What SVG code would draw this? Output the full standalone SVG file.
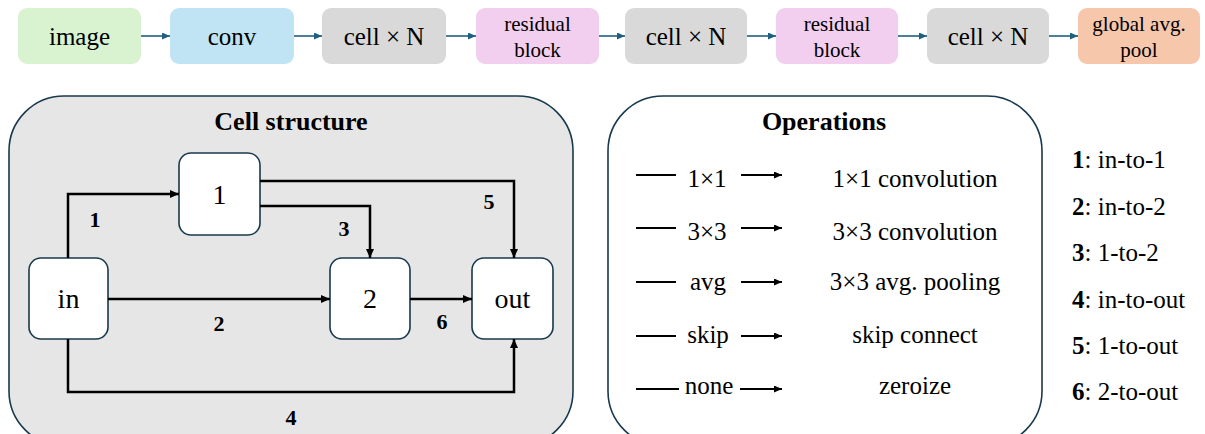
<svg xmlns="http://www.w3.org/2000/svg" width="1205" height="434" viewBox="0 0 1205 434" font-family="'Liberation Serif', Tinos, 'DejaVu Serif', serif">
<defs>
<style>
text{font-family:'Liberation Serif',Tinos,'Times New Roman','DejaVu Serif',serif;fill:#000;text-anchor:middle}
.top{font-size:25px}
.two{font-size:21px}
.ttl{font-size:26px;font-weight:bold}
.nd{font-size:28px}
.el{font-size:22px;font-weight:bold}
.op{font-size:25px}
.lg{font-size:25px;text-anchor:start}
.tb{stroke:none}
.flow{stroke:#1f5f80;stroke-width:1.6;fill:none}
.edge{stroke:#000;stroke-width:2.5;fill:none}
.opl{stroke:#000;stroke-width:2;fill:none}
.node{fill:#fff;stroke:#18394d;stroke-width:1.6}
.panel{stroke:#18394d;stroke-width:1.6}
</style>
<marker id="ah" markerUnits="userSpaceOnUse" markerWidth="9" markerHeight="8" refX="9" refY="4" orient="auto"><path d="M0,0 L9,4 L0,8 z" fill="#000"/></marker>
<marker id="ahf" markerUnits="userSpaceOnUse" markerWidth="8" markerHeight="7" refX="8" refY="3.5" orient="auto"><path d="M0,0 L8,3.5 L0,7 z" fill="#1f5f80"/></marker>
<marker id="aho" markerUnits="userSpaceOnUse" markerWidth="8" markerHeight="7" refX="8" refY="3.5" orient="auto"><path d="M0,0 L8,3.5 L0,7 z" fill="#000"/></marker>
</defs>

<!-- top pipeline -->
<g id="n-image"><rect class="tb" x="18" y="8" width="123" height="56" rx="9" fill="#d9f2d0"/><text class="top" x="79.5" y="45">image</text></g>
<g id="n-conv"><rect class="tb" x="170" y="8" width="124" height="56" rx="9" fill="#c1e4f5"/><text class="top" x="232" y="45">conv</text></g>
<g id="n-cell1"><rect class="tb" x="322" y="8" width="124" height="56" rx="9" fill="#d9d9d9"/><text class="top" x="384" y="45">cell × N</text></g>
<g id="n-res1"><rect class="tb" x="476" y="8" width="123" height="56" rx="9" fill="#f2cfee"/><text class="two" x="537.5" y="31">residual</text><text class="two" x="537.5" y="57">block</text></g>
<g id="n-cell2"><rect class="tb" x="625" y="8" width="122" height="56" rx="9" fill="#d9d9d9"/><text class="top" x="686" y="45">cell × N</text></g>
<g id="n-res2"><rect class="tb" x="776" y="8" width="122" height="56" rx="9" fill="#f2cfee"/><text class="two" x="837" y="31">residual</text><text class="two" x="837" y="57">block</text></g>
<g id="n-cell3"><rect class="tb" x="927" y="8" width="122" height="56" rx="9" fill="#d9d9d9"/><text class="top" x="988" y="45">cell × N</text></g>
<g id="n-gap"><rect class="tb" x="1078" y="8" width="122" height="56" rx="9" fill="#f7c7ac"/><text class="two" x="1139" y="31">global avg.</text><text class="two" x="1139" y="57">pool</text></g>

<g id="flow-connectors">
<line class="flow" x1="141" y1="36" x2="170" y2="36" marker-end="url(#ahf)"/>
<line class="flow" x1="294" y1="36" x2="322" y2="36" marker-end="url(#ahf)"/>
<line class="flow" x1="446" y1="36" x2="476" y2="36" marker-end="url(#ahf)"/>
<line class="flow" x1="599" y1="36" x2="625" y2="36" marker-end="url(#ahf)"/>
<line class="flow" x1="747" y1="36" x2="776" y2="36" marker-end="url(#ahf)"/>
<line class="flow" x1="898" y1="36" x2="927" y2="36" marker-end="url(#ahf)"/>
<line class="flow" x1="1049" y1="36" x2="1078" y2="36" marker-end="url(#ahf)"/>
</g>

<!-- cell structure panel -->
<g id="cell-panel">
<rect class="panel" x="9" y="96" width="564" height="350" rx="55" fill="#e6e6e6"/>
<text class="ttl" x="291" y="130">Cell structure</text>
</g>
<g id="n-in"><rect class="node" x="29" y="258" width="79" height="81" rx="12"/><text class="nd" x="68.5" y="308">in</text></g>
<g id="n-1"><rect class="node" x="179" y="153" width="81" height="82" rx="12"/><text class="nd" x="219.5" y="204">1</text></g>
<g id="n-2"><rect class="node" x="330" y="258" width="80" height="81" rx="12"/><text class="nd" x="370" y="308">2</text></g>
<g id="n-out"><rect class="node" x="472" y="258" width="81" height="81" rx="12"/><text class="nd" x="512.5" y="308">out</text></g>

<g id="cell-connectors">
<path class="edge" d="M68,258 V194 H179" marker-end="url(#ah)"/>
<path class="edge" d="M260,181 H514 V258" marker-end="url(#ah)"/>
<path class="edge" d="M260,206 H370 V258" marker-end="url(#ah)"/>
<path class="edge" d="M108,299 H330" marker-end="url(#ah)"/>
<path class="edge" d="M410,299 H472" marker-end="url(#ah)"/>
<path class="edge" d="M68,339 V392 H514 V339" marker-end="url(#ah)"/>
<text class="el" x="95" y="227">1</text>
<text class="el" x="219" y="331">2</text>
<text class="el" x="344" y="236">3</text>
<text class="el" x="291" y="425">4</text>
<text class="el" x="489" y="209">5</text>
<text class="el" x="442" y="329">6</text>
</g>

<!-- operations panel -->
<g id="ops-panel">
<rect class="panel" x="608" y="96" width="434" height="350" rx="55" fill="#fff"/>
<text class="ttl" x="824" y="130">Operations</text>
</g>
<g id="op-1x1">
<line class="opl" x1="636" y1="175" x2="676" y2="175"/><text class="op" x="707" y="187">1×1</text><line class="opl" x1="741" y1="175" x2="782" y2="175" marker-end="url(#aho)"/>
<text class="op" x="915" y="187">1×1 convolution</text>
</g>
<g id="op-3x3">
<line class="opl" x1="636" y1="228" x2="676" y2="228"/><text class="op" x="707" y="240">3×3</text><line class="opl" x1="741" y1="228" x2="782" y2="228" marker-end="url(#aho)"/>
<text class="op" x="915" y="240">3×3 convolution</text>
</g>
<g id="op-avg">
<line class="opl" x1="636" y1="282" x2="676" y2="282"/><text class="op" x="708" y="290">avg</text><line class="opl" x1="741" y1="282" x2="782" y2="282" marker-end="url(#aho)"/>
<text class="op" x="915" y="290">3×3 avg. pooling</text>
</g>
<g id="op-skip">
<line class="opl" x1="636" y1="336" x2="676" y2="336"/><text class="op" x="708" y="343">skip</text><line class="opl" x1="741" y1="336" x2="782" y2="336" marker-end="url(#aho)"/>
<text class="op" x="915" y="343">skip connect</text>
</g>
<g id="op-none">
<line class="opl" x1="636" y1="389" x2="679" y2="389"/><text class="op" x="709" y="394">none</text><line class="opl" x1="740" y1="389" x2="782" y2="389" marker-end="url(#aho)"/>
<text class="op" x="915" y="394">zeroize</text>
</g>

<!-- legend -->
<g id="legend">
<text class="lg" x="1072" y="168"><tspan font-weight="bold">1</tspan>: in-to-1</text>
<text class="lg" x="1072" y="215"><tspan font-weight="bold">2</tspan>: in-to-2</text>
<text class="lg" x="1072" y="261"><tspan font-weight="bold">3</tspan>: 1-to-2</text>
<text class="lg" x="1072" y="308"><tspan font-weight="bold">4</tspan>: in-to-out</text>
<text class="lg" x="1072" y="354"><tspan font-weight="bold">5</tspan>: 1-to-out</text>
<text class="lg" x="1072" y="400"><tspan font-weight="bold">6</tspan>: 2-to-out</text>
</g>
</svg>
